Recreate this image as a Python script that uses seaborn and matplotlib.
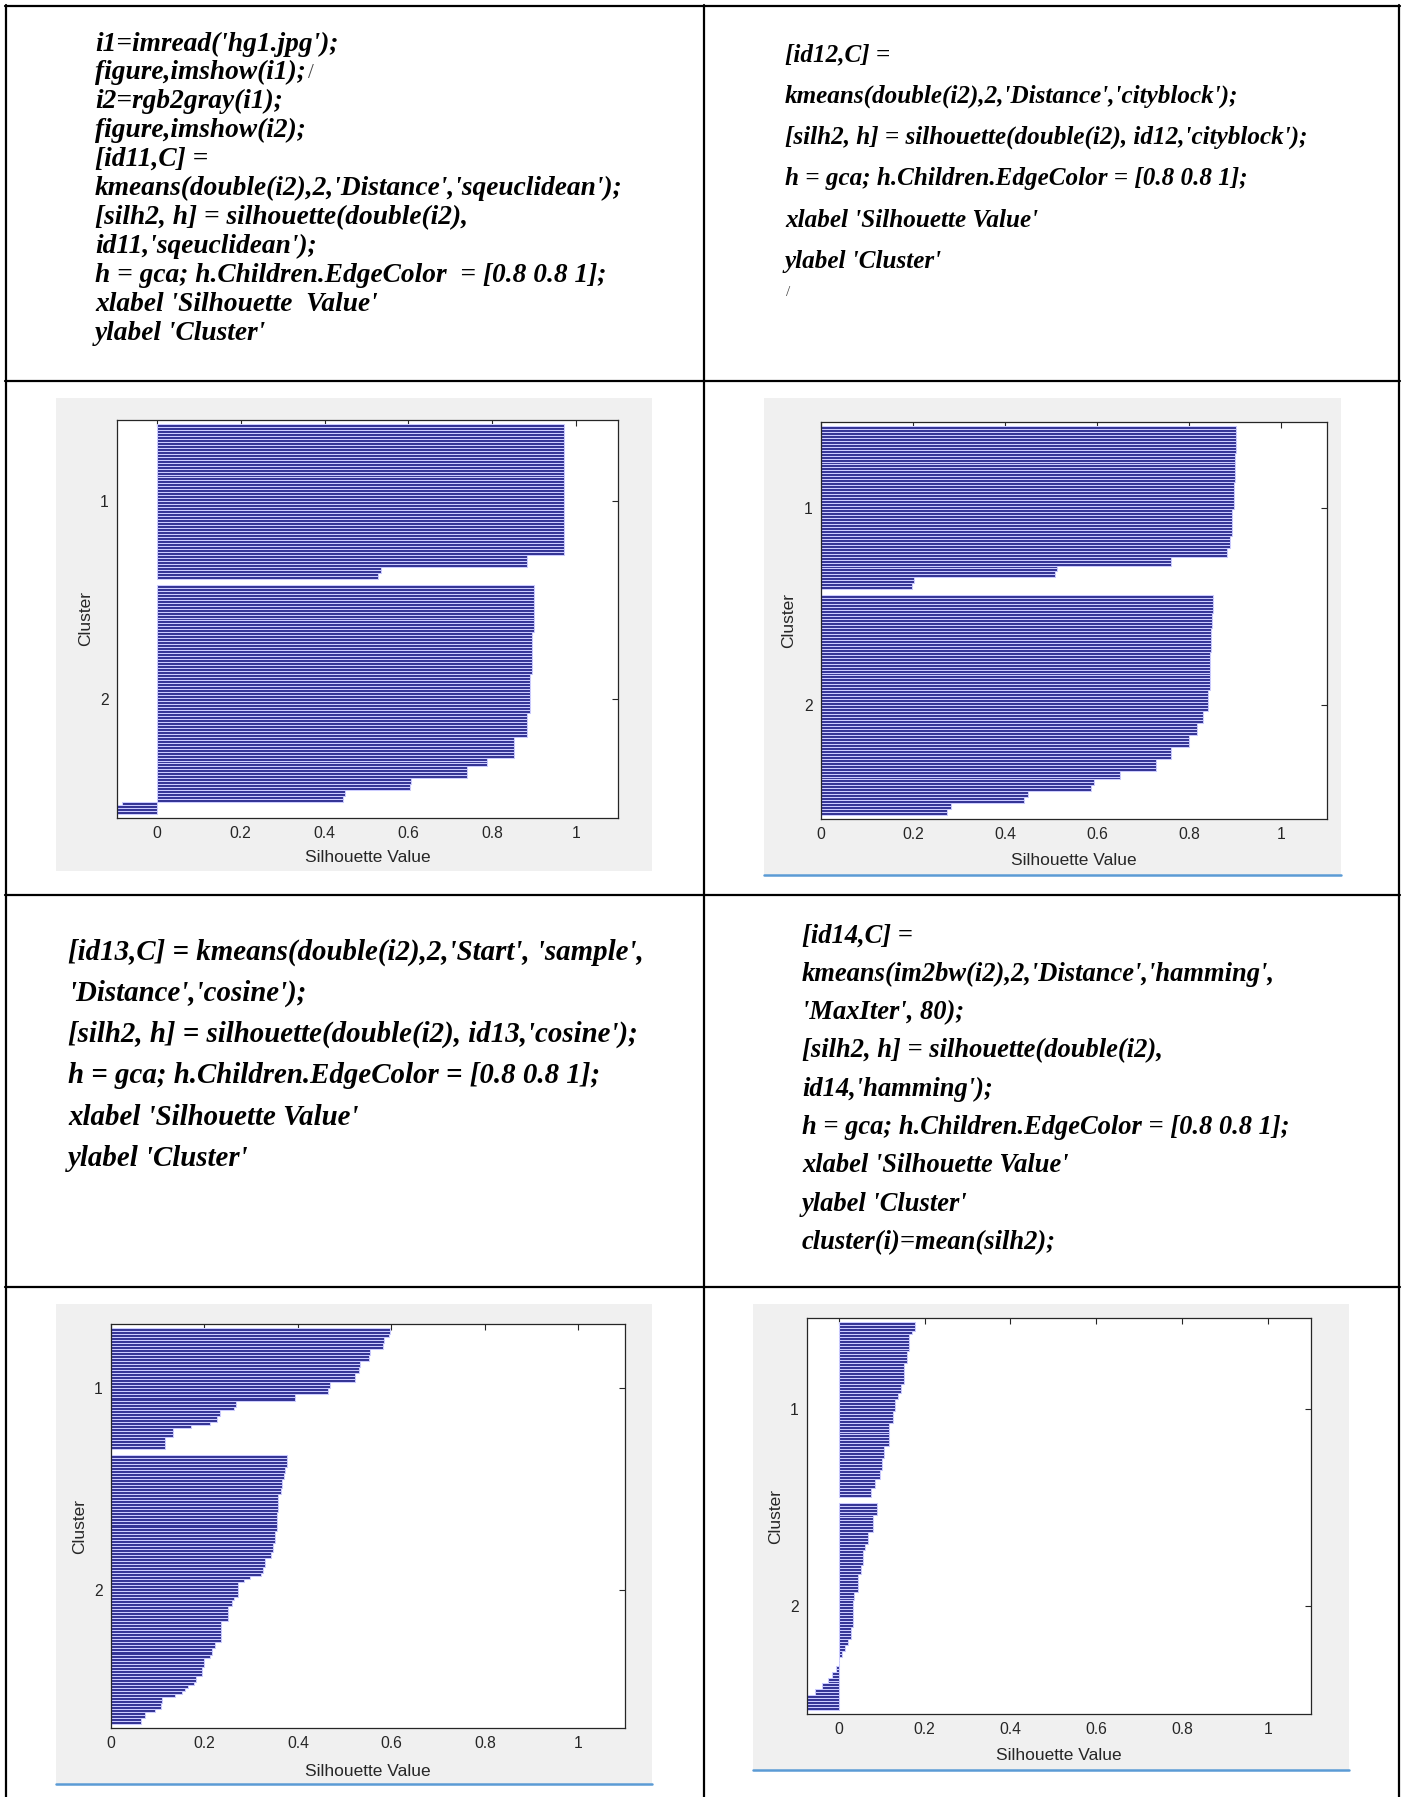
import numpy as np
import pandas as pd
import matplotlib
matplotlib.use("Agg")
import matplotlib.pyplot as plt
from matplotlib.patches import Rectangle
from matplotlib.lines import Line2D
import seaborn as sns

sns.set_style("white")
plt.rcParams["font.family"] = ["Liberation Sans", "DejaVu Sans"]

# silhouette values, top to bottom in each cluster:
# a level and the number of rows sitting at that level
sqeuc_c1_vals = [0.971, 0.883, 0.535, 0.527]
sqeuc_c1_reps = [44, 4, 2, 2]
sqeuc_c2_vals = [0.900, 0.895, 0.891, 0.882, 0.851, 0.787, 0.741, 0.607, 0.603, 0.450, 0.444, -0.082, -0.095]
sqeuc_c2_reps = [16, 14, 13, 8, 7, 3, 4, 2, 2, 2, 2, 1, 3]

city_c1_vals = [0.903, 0.900, 0.897, 0.893, 0.889, 0.882, 0.760, 0.512, 0.508, 0.203, 0.197]
city_c1_reps = [9, 10, 9, 9, 4, 3, 3, 2, 2, 2, 2]
city_c2_vals = [0.853, 0.850, 0.848, 0.845, 0.841, 0.831, 0.818, 0.799, 0.760, 0.728, 0.651,
                0.594, 0.588, 0.449, 0.441, 0.283, 0.273]
city_c2_reps = [6, 5, 8, 13, 7, 4, 4, 4, 4, 4, 3, 2, 2, 2, 2, 2, 2]

cos_c1_vals = [0.598, 0.596, 0.585, 0.583, 0.555, 0.552, 0.532, 0.530, 0.522, 0.468, 0.464, 0.394,
               0.268, 0.263, 0.233, 0.226, 0.212, 0.172, 0.132, 0.116]
cos_c1_reps = [2, 1, 2, 2, 2, 2, 2, 2, 3, 2, 2, 2, 2, 1, 2, 2, 1, 1, 3, 4]
cos_c2_vals = [0.377, 0.373, 0.371, 0.367, 0.363, 0.358, 0.355, 0.351, 0.346, 0.342, 0.330, 0.325,
               0.320, 0.298, 0.285, 0.272, 0.264, 0.259, 0.251, 0.235, 0.222, 0.216, 0.211, 0.198,
               0.194, 0.182, 0.177, 0.165, 0.159, 0.152, 0.138, 0.110, 0.106, 0.094, 0.073, 0.065]
cos_c2_reps = [4, 2, 2, 3, 2, 6, 6, 4, 3, 2, 3, 2, 1, 1, 1, 5, 1, 2, 5, 7, 2, 2, 1, 3, 3, 2, 1, 1,
               1, 1, 1, 2, 2, 1, 2, 2]

ham_c1_vals = [0.177, 0.170, 0.164, 0.160, 0.152, 0.146, 0.139, 0.132, 0.126, 0.117, 0.106, 0.101, 0.095, 0.084, 0.075]
ham_c1_reps = [3, 1, 6, 4, 7, 3, 2, 4, 4, 8, 4, 4, 3, 3, 3]
ham_c2_vals = [0.089, 0.080, 0.068, 0.062, 0.056, 0.051, 0.045, 0.036, 0.032, 0.028, 0.022, 0.015,
               0.007, 0.001, -0.007, -0.016, -0.025, -0.038, -0.056, -0.074]
ham_c2_reps = [4, 6, 4, 2, 5, 3, 6, 3, 9, 4, 2, 2, 2, 3, 2, 2, 2, 2, 2, 5]

cluster_labels = ["1", "2"]
xtick_vals = [0, 0.2, 0.4, 0.6, 0.8, 1]
xtick_labels = ["0", "0.2", "0.4", "0.6", "0.8", "1"]

code_sqeuclidean = [
    "i1=imread('hg1.jpg');",
    "figure,imshow(i1);",
    "i2=rgb2gray(i1);",
    "figure,imshow(i2);",
    "[id11,C] =",
    "kmeans(double(i2),2,'Distance','sqeuclidean');",
    "[silh2, h] = silhouette(double(i2),",
    "id11,'sqeuclidean');",
    "h = gca; h.Children.EdgeColor  = [0.8 0.8 1];",
    "xlabel 'Silhouette  Value'",
    "ylabel 'Cluster'",
]
code_cityblock = [
    "[id12,C] =",
    "kmeans(double(i2),2,'Distance','cityblock');",
    "[silh2, h] = silhouette(double(i2), id12,'cityblock');",
    "h = gca; h.Children.EdgeColor = [0.8 0.8 1];",
    "xlabel 'Silhouette Value'",
    "ylabel 'Cluster'",
]
code_cosine = [
    "[id13,C] = kmeans(double(i2),2,'Start', 'sample',",
    "'Distance','cosine');",
    "[silh2, h] = silhouette(double(i2), id13,'cosine');",
    "h = gca; h.Children.EdgeColor = [0.8 0.8 1];",
    "xlabel 'Silhouette Value'",
    "ylabel 'Cluster'",
]
code_hamming = [
    "[id14,C] =",
    "kmeans(im2bw(i2),2,'Distance','hamming',",
    "'MaxIter', 80);",
    "[silh2, h] = silhouette(double(i2),",
    "id14,'hamming');",
    "h = gca; h.Children.EdgeColor = [0.8 0.8 1];",
    "xlabel 'Silhouette Value'",
    "ylabel 'Cluster'",
    "cluster(i)=mean(silh2);",
]

W, H = 1403, 1797
BAR = (0.2, 0.2, 0.58)
EDGE = (0.8, 0.8, 1.0)
INK = "#262626"
PANEL_BG = (0.94, 0.94, 0.94)
WORD_BLUE = "#5b9bd5"
CODE = dict(family="Liberation Serif", weight="bold", style="italic", color="black")

fig = plt.figure(figsize=(W / 100, H / 100), dpi=100)
fig.patch.set_facecolor("white")
renderer = fig.canvas.get_renderer()


def fx(x):
    return x / W


def fy(y):
    return 1 - y / H


def hline(x0, x1, y, color="black", lw=1.6):
    fig.add_artist(Line2D([fx(x0), fx(x1)], [fy(y), fy(y)], color=color, lw=lw))


def vline(x, y0, y1, lw=1.6):
    fig.add_artist(Line2D([fx(x), fx(x)], [fy(y0), fy(y1)], color="black", lw=lw))


def code_cell(lines, x0, y0, dy, ref_line, ref_width):
    # size the font so the reference line spans the width it has in the picture
    t = fig.text(0, 0, lines[ref_line], fontsize=20, **CODE)
    w = t.get_window_extent(renderer).width
    t.remove()
    size = 20 * ref_width / w
    for i, line in enumerate(lines):
        fig.text(fx(x0), fy(y0 + i * dy), line, fontsize=size, ha="left", va="center", **CODE)


def silhouette_panel(box, bg, c1_vals, c1_reps, c2_vals, c2_reps, xmin, ylab_x, xlab_y, blue_y=None):
    l, t, r, b = bg
    fig.add_artist(Rectangle((fx(l), fy(b)), fx(r - l), (b - t) / H, transform=fig.transFigure,
                             facecolor=PANEL_BG, edgecolor="none", zorder=-5))
    if blue_y is not None:
        hline(l, r, blue_y, color=WORD_BLUE, lw=1.8)

    l, t, r, b = box
    ax = fig.add_axes([fx(l), fy(b), fx(r - l), (b - t) / H])
    ax.set_zorder(2)
    c1 = np.repeat(c1_vals, c1_reps)
    c2 = np.repeat(c2_vals, c2_reps)
    n1, n2 = len(c1), len(c2)
    rows = np.r_[np.arange(1, n1 + 1), np.arange(n1 + 3, n1 + 3 + n2)]
    df = pd.DataFrame({"silhouette": np.r_[c1, c2], "row": rows})

    sns.barplot(data=df, x="silhouette", y="row", orient="h", native_scale=True, width=1,
                color=BAR, saturation=1, edgecolor=EDGE, linewidth=0.75, errorbar=None, ax=ax)

    ax.set_facecolor("white")
    ax.set_xlim(xmin, 1.1)
    ax.set_ylim(rows[-1] + 1.8, -0.8)
    ax.set_xticks(xtick_vals, xtick_labels)
    ax.set_yticks([rows[:n1].mean(), rows[n1:].mean()], cluster_labels)
    ax.tick_params(direction="in", top=True, right=True, length=4, width=0.8,
                   colors=INK, labelsize=11.3, pad=6)
    for s in ax.spines.values():
        s.set_visible(True)
        s.set_color(INK)
        s.set_linewidth(0.9)
    ax.set_xlabel("Silhouette Value", fontsize=12.5, color=INK)
    ax.set_ylabel("Cluster", fontsize=12.5, color=INK)
    ax.xaxis.set_label_coords(0.5, -(xlab_y - b) / (b - t))
    ax.xaxis.label.set_va("center")
    ax.yaxis.set_label_coords((ylab_x - l) / (r - l), 0.5)
    ax.yaxis.label.set_va("center")
    return ax


# table grid
hline(5, 1400, 6)
hline(5, 1400, 381)
hline(5, 1400, 895)
hline(5, 1400, 1287)
vline(6, 5, H)
vline(704, 5, H)
vline(1399, 5, H)

# code cells
code_cell(code_sqeuclidean, 95, 44, 28.9, 5, 526)
code_cell(code_cityblock, 785, 55, 41.3, 2, 523)
code_cell(code_cosine, 68, 952, 41.3, 0, 575)
code_cell(code_hamming, 802, 936, 38.3, 5, 488)
# text cursors left in the document
fig.text(fx(311), fy(73), "/", fontsize=15, family="Liberation Serif", color="#444444", ha="center", va="center")
fig.text(fx(788), fy(292), "/", fontsize=11, family="Liberation Serif", color="#444444", ha="center", va="center")

# silhouette plots
silhouette_panel((117, 420, 618, 818), (56, 398, 652, 871), sqeuc_c1_vals, sqeuc_c1_reps,
                 sqeuc_c2_vals, sqeuc_c2_reps, -0.095, 86, 858)
silhouette_panel((821, 422, 1327, 819), (764, 398, 1341, 875), city_c1_vals, city_c1_reps,
                 city_c2_vals, city_c2_reps, 0, 789, 861, blue_y=875)
silhouette_panel((111, 1324, 625, 1728), (56, 1304, 652, 1784), cos_c1_vals, cos_c1_reps,
                 cos_c2_vals, cos_c2_reps, 0, 80, 1771, blue_y=1784)
silhouette_panel((807, 1318, 1311, 1714), (753, 1304, 1349, 1770), ham_c1_vals, ham_c1_reps,
                 ham_c2_vals, ham_c2_reps, -0.074, 776, 1756, blue_y=1770)

fig.savefig("out.png", dpi=100)
